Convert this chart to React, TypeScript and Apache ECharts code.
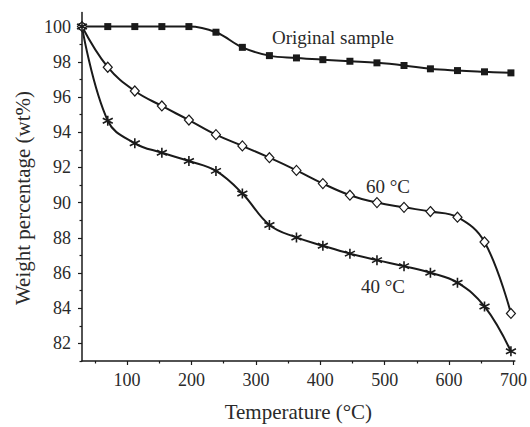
import React, { useEffect, useRef } from "react";
import * as echarts from "echarts";

const temps = [30, 70, 112, 154, 196, 238, 279, 321, 363, 404, 446, 488, 530, 571, 613, 655, 696];
const original = [100, 100, 100, 100, 100, 99.68, 98.82, 98.35, 98.22, 98.12, 98.03, 97.94, 97.79, 97.6, 97.5, 97.43, 97.37];
const c60 = [100, 97.69, 96.34, 95.49, 94.69, 93.86, 93.22, 92.55, 91.83, 91.08, 90.42, 90.0, 89.73, 89.49, 89.17, 87.76, 83.7];
const c40 = [100, 94.65, 93.37, 92.83, 92.36, 91.8, 90.52, 88.73, 88.02, 87.55, 87.1, 86.73, 86.39, 86.01, 85.45, 84.1, 81.55];

const xMajor = [100, 200, 300, 400, 500, 600, 700];
const xMinor = [50, 150, 250, 350, 450, 550, 650];
const yMajor = [82, 84, 86, 88, 90, 92, 94, 96, 98, 100];
const yMinor = [81, 83, 85, 87, 89, 91, 93, 95, 97, 99];

const FONT = "'Liberation Serif', 'Times New Roman', serif";
const INK = "#1a1a1a";
const TXT = "#2a2a2a";

const pair = (ys: number[]) => temps.map((t, i) => [t, ys[i]]);

export default function App() {
  const ref = useRef<HTMLDivElement>(null);
  useEffect(() => {
    if (!ref.current) return;
    const chart = echarts.init(ref.current, null, { renderer: "svg" });
    const xBase = { type: "value", min: 30, max: 702, position: "bottom" };
    const yBase = { type: "value", min: 81, max: 100.8, position: "left" };
    chart.setOption({
      animation: false,
      backgroundColor: "#fff",
      grid: { left: 82, right: 14, top: 12.5, bottom: 63.5, containLabel: false },
      xAxis: [
        {
          ...xBase,
          name: "Temperature (\u00B0C)",
          nameLocation: "middle",
          nameGap: 40,
          nameTextStyle: { fontFamily: FONT, fontSize: 21, color: TXT },
          axisLine: { show: true, lineStyle: { color: INK, width: 1.5 } },
          axisTick: { show: true, length: 4, customValues: xMajor, lineStyle: { color: INK, width: 1.2 } },
          axisLabel: { customValues: xMajor, fontFamily: FONT, fontSize: 18, color: TXT, margin: 10 },
          splitLine: { show: false },
        },
        {
          ...xBase,
          axisLine: { show: false },
          axisTick: { show: true, length: 2.5, customValues: xMinor, lineStyle: { color: INK, width: 1.2 } },
          axisLabel: { show: false },
          splitLine: { show: false },
        },
      ],
      yAxis: [
        {
          ...yBase,
          axisLine: { show: true, lineStyle: { color: INK, width: 1.5 } },
          axisTick: { show: true, length: 4, customValues: yMajor, lineStyle: { color: INK, width: 1.2 } },
          axisLabel: { customValues: yMajor, fontFamily: FONT, fontSize: 18, color: TXT, margin: 11 },
          splitLine: { show: false },
        },
        {
          ...yBase,
          axisLine: { show: false },
          axisTick: { show: true, length: 2.5, customValues: yMinor, lineStyle: { color: INK, width: 1.2 } },
          axisLabel: { show: false },
          splitLine: { show: false },
        },
      ],
      series: [
        {
          name: "Original sample",
          type: "line",
          data: pair(original),
          smooth: 0.4,
          symbol: "rect",
          symbolSize: 7,
          lineStyle: { color: INK, width: 2 },
          itemStyle: { color: INK },
          z: 3,
        },
        {
          name: "60 °C",
          type: "line",
          data: pair(c60),
          smooth: 0.4,
          symbol: "diamond",
          symbolSize: [9, 10],
          showAllSymbol: true,
          lineStyle: { color: INK, width: 2 },
          itemStyle: { color: "#fff", borderColor: INK, borderWidth: 1.2 },
          z: 3,
        },
        {
          name: "40 °C",
          type: "line",
          data: pair(c40),
          smooth: 0.4,
          symbol: "path://M5 0 L5 10 M0.7 2.5 L9.3 7.5 M0.7 7.5 L9.3 2.5",
          symbolSize: 10,
          showAllSymbol: true,
          lineStyle: { color: INK, width: 2 },
          itemStyle: { color: "none", borderColor: INK, borderWidth: 1.6 },
          z: 3,
        },
      ],
      graphic: [
        {
          type: "text",
          x: 23,
          y: 198,
          rotation: Math.PI / 2,
          style: {
            text: "Weight percentage (wt%)",
            font: `21px ${FONT}`,
            fill: TXT,
            align: "center",
            verticalAlign: "middle",
          },
        },
        { type: "text", left: 272, top: 27.5, style: { text: "Original sample", font: `19px ${FONT}`, fill: TXT } },
        { type: "text", left: 366, top: 177, style: { text: "60 \u00B0C", font: `19px ${FONT}`, fill: TXT } },
        { type: "text", left: 361, top: 277, style: { text: "40 \u00B0C", font: `19px ${FONT}`, fill: TXT } },
      ],
    });
    return () => chart.dispose();
  }, []);
  return <div ref={ref} style={{ width: 530, height: 427, position: "absolute", left: 0, top: 0 }} />;
}
